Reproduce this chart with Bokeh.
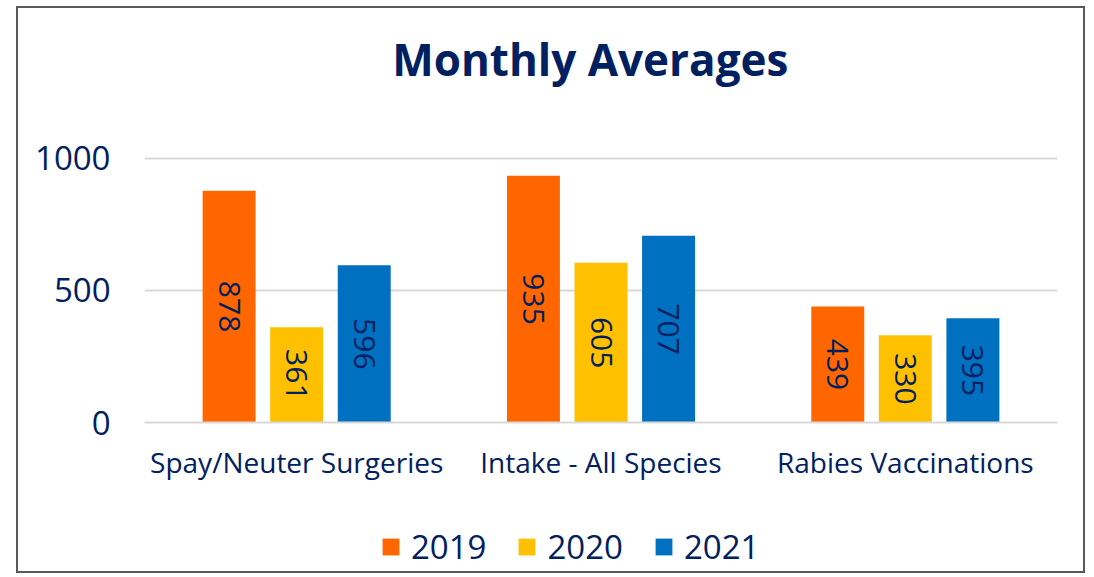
import math
from bokeh.plotting import figure
from bokeh.layouts import column
from bokeh.models import (ColumnDataSource, FactorRange, Range1d, FixedTicker,
                          Legend, LegendItem, Label)
from bokeh.transform import dodge
from bokeh.core.properties import value
from bokeh.embed import file_html
from bokeh.resources import INLINE

# ---- data ----
categories = ["Spay/Neuter Surgeries", "Intake - All Species", "Rabies Vaccinations"]
years = ["2019", "2020", "2021"]
v2019 = [878, 935, 439]
v2020 = [361, 605, 330]
v2021 = [596, 707, 395]
y_ticks = [0, 500, 1000]
title_text = "Monthly Averages"

colors = ["#FF6600", "#FFC000", "#0070C0"]
NAVY = "#002060"
GRID = "#D9D9D9"
FONT = "Open Sans"

series = [v2019, v2020, v2021]
data = dict(cat=categories)
for yr, vals in zip(years, series):
    data["v" + yr] = vals
    data["m" + yr] = [v / 2 for v in vals]
    data["t" + yr] = [str(v) for v in vals]
src = ColumnDataSource(data)

W = 1065
H_TITLE = 100
H_MAIN = 394
H_LEG = 69


def strip(h):
    f = figure(width=W, height=h, x_range=Range1d(0, W), y_range=Range1d(0, h),
               output_backend="svg", toolbar_location=None, min_border=0,
               x_axis_location=None, y_axis_location=None)
    f.grid.visible = False
    f.outline_line_color = None
    f.background_fill_color = "white"
    f.border_fill_color = "white"
    return f


# ---- title strip ----
t = strip(H_TITLE)
t.add_layout(Label(x=520, y=50, text=title_text, text_font=FONT,
                   text_font_style="bold", text_font_size="44px",
                   text_color=NAVY, text_align="center",
                   text_baseline="alphabetic"))

# ---- main chart ----
p = figure(x_range=FactorRange(factors=categories, range_padding=0),
           y_range=Range1d(0, 1034),
           width=W, height=H_MAIN,
           output_backend="svg", toolbar_location=None,
           min_border_left=126, min_border_right=26,
           min_border_top=41, min_border_bottom=80)

offsets = [-0.222, 0.0, 0.222]
bar_w = 0.174
for yr, off, col in zip(years, offsets, colors):
    p.vbar(x=dodge("cat", off, range=p.x_range), top="v" + yr, width=bar_w,
           source=src, fill_color=col, line_color=None)
    p.text(x=dodge("cat", off, range=p.x_range), y="m" + yr, text="t" + yr,
           source=src, angle=-math.pi / 2, text_align="center",
           text_baseline="middle", text_font=value(FONT),
           text_font_size="30px", text_color=NAVY)

ticker = FixedTicker(ticks=y_ticks)
p.yaxis.ticker = ticker
p.yaxis.axis_line_color = None
p.yaxis.major_tick_line_color = None
p.yaxis.minor_tick_line_color = None
p.yaxis.major_label_text_font = FONT
p.yaxis.major_label_text_font_size = "33px"
p.yaxis.major_label_text_color = NAVY
p.yaxis.major_label_standoff = 28

p.xaxis.axis_line_color = GRID
p.xaxis.axis_line_width = 2
p.xaxis.major_tick_line_color = None
p.xaxis.minor_tick_line_color = None
p.xaxis.major_tick_out = 0
p.xaxis.major_label_text_font = FONT
p.xaxis.major_label_text_font_size = "28px"
p.xaxis.major_label_text_color = NAVY
p.xaxis.major_label_standoff = 20

p.xgrid.grid_line_color = None
p.ygrid.ticker = ticker
p.ygrid.grid_line_color = GRID
p.ygrid.grid_line_width = 2
p.outline_line_color = None
p.background_fill_color = "white"
p.border_fill_color = "white"

# ---- legend strip: one proxy bar per year, outside the visible range,
# used only to supply the legend swatches ----
q = strip(H_LEG)
proxy = ColumnDataSource(dict(x=[-10], top=[0]))
items = []
for yr, col in zip(years, colors):
    r = q.vbar(x="x", top="top", width=0.1, source=proxy,
               fill_color=col, line_color=None)
    items.append(LegendItem(label=yr, renderers=[r]))
legend = Legend(items=items, location=(236, 2), orientation="horizontal",
                glyph_width=21, glyph_height=21, label_text_font_size="33px",
                label_text_font=FONT, label_text_color=NAVY, spacing=30,
                label_standoff=10, padding=0, margin=0,
                border_line_color=None, background_fill_alpha=0)
q.add_layout(legend)

layout = column(t, p, q, spacing=0)
layout.styles = {"border": "2px solid #595959", "position": "relative",
                 "left": "16px", "top": "6px", "background": "white"}

open("out.html", "w").write(file_html(layout, INLINE))
